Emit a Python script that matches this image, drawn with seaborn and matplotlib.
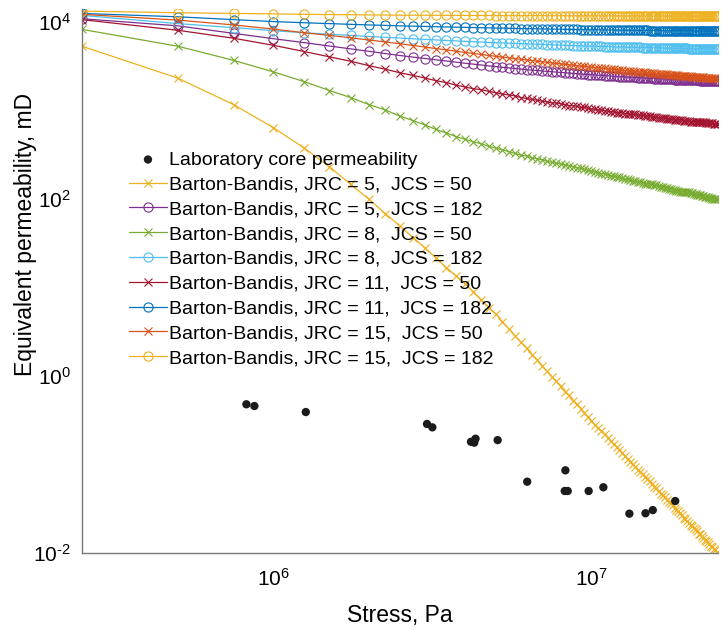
import numpy as np
import pandas as pd
import matplotlib
matplotlib.use("Agg")
import matplotlib.pyplot as plt
import seaborn as sns
from matplotlib.ticker import LogLocator, NullFormatter, FixedLocator, FuncFormatter

# ---------------- data ----------------
stress_mpa = [0.25, 0.5, 0.75, 1.0, 1.25, 1.5, 1.75, 2.0, 2.25, 2.5,
              2.75, 3.0, 3.25, 3.5, 3.75, 4.0, 4.25, 4.5, 4.75, 5.0,
              5.25, 5.5, 5.75, 6.0, 6.25, 6.5, 6.75, 7.0, 7.25, 7.5,
              7.75, 8.0, 8.25, 8.5, 8.75, 9.0, 9.25, 9.5, 9.75, 10.0,
              10.25, 10.5, 10.75, 11.0, 11.25, 11.5, 11.75, 12.0, 12.25, 12.5,
              12.75, 13.0, 13.25, 13.5, 13.75, 14.0, 14.25, 14.5, 14.75, 15.0,
              15.25, 15.5, 15.75, 16.0, 16.25, 16.5, 16.75, 17.0, 17.25, 17.5,
              17.75, 18.0, 18.25, 18.5, 18.75, 19.0, 19.25, 19.5, 19.75, 20.0,
              20.25, 20.5, 20.75, 21.0, 21.25, 21.5, 21.75, 22.0, 22.25, 22.5,
              22.75, 23.0, 23.25, 23.5, 23.75, 24.0, 24.25, 24.5, 24.75, 25.0]

# log10 of equivalent permeability (mD) for each Barton-Bandis case
log10_k_jrc5_jcs50 = [
    3.72, 3.36, 3.06, 2.80, 2.57, 2.36, 2.16, 1.99, 1.83, 1.69,
    1.56, 1.44, 1.33, 1.22, 1.13, 1.04, 0.95, 0.86, 0.77, 0.70,
    0.61, 0.53, 0.45, 0.38, 0.31, 0.24, 0.18, 0.11, 0.05, -0.01,
    -0.06, -0.12, -0.18, -0.22, -0.28, -0.32, -0.37, -0.42, -0.46, -0.51,
    -0.55, -0.59, -0.62, -0.66, -0.70, -0.74, -0.77, -0.80, -0.84, -0.87,
    -0.91, -0.94, -0.97, -1.00, -1.03, -1.06, -1.09, -1.11, -1.14, -1.17,
    -1.19, -1.22, -1.25, -1.27, -1.30, -1.33, -1.35, -1.37, -1.40, -1.42,
    -1.44, -1.46, -1.49, -1.51, -1.53, -1.55, -1.57, -1.60, -1.62, -1.64,
    -1.66, -1.68, -1.70, -1.72, -1.73, -1.75, -1.78, -1.79, -1.81, -1.83,
    -1.85, -1.87, -1.88, -1.90, -1.92, -1.93, -1.95, -1.97, -1.99, -2.00]

log10_k_jrc5_jcs182 = [
    4.03, 3.95, 3.865, 3.805, 3.76, 3.722, 3.69, 3.662, 3.637, 3.615,
    3.597, 3.581, 3.566, 3.553, 3.54, 3.528, 3.518, 3.508, 3.498, 3.49,
    3.482, 3.475, 3.468, 3.462, 3.455, 3.45, 3.446, 3.441, 3.436, 3.432,
    3.428, 3.424, 3.42, 3.417, 3.413, 3.41, 3.407, 3.403, 3.40, 3.398,
    3.395, 3.393, 3.39, 3.388, 3.386, 3.384, 3.381, 3.379, 3.377, 3.375,
    3.373, 3.372, 3.37, 3.369, 3.367, 3.365, 3.364, 3.362, 3.361, 3.359,
    3.358, 3.357, 3.355, 3.354, 3.353, 3.352, 3.351, 3.349, 3.348, 3.347,
    3.346, 3.345, 3.344, 3.343, 3.342, 3.341, 3.340, 3.339, 3.338, 3.338,
    3.337, 3.336, 3.336, 3.335, 3.334, 3.334, 3.333, 3.332, 3.332, 3.331,
    3.330, 3.330, 3.329, 3.329, 3.328, 3.327, 3.327, 3.326, 3.326, 3.325]

log10_k_jrc8_jcs50 = [
    3.91, 3.72, 3.56, 3.43, 3.32, 3.22, 3.14, 3.06, 3.00, 2.93,
    2.88, 2.83, 2.78, 2.74, 2.70, 2.67, 2.64, 2.62, 2.59, 2.57,
    2.55, 2.53, 2.51, 2.49, 2.48, 2.46, 2.45, 2.44, 2.42, 2.41,
    2.40, 2.39, 2.38, 2.37, 2.36, 2.35, 2.34, 2.33, 2.32, 2.31,
    2.30, 2.29, 2.28, 2.28, 2.27, 2.26, 2.25, 2.24, 2.24, 2.23,
    2.22, 2.22, 2.21, 2.20, 2.20, 2.19, 2.19, 2.18, 2.17, 2.17,
    2.16, 2.16, 2.15, 2.15, 2.14, 2.13, 2.13, 2.12, 2.12, 2.11,
    2.11, 2.10, 2.10, 2.09, 2.09, 2.08, 2.08, 2.08, 2.07, 2.07,
    2.07, 2.06, 2.06, 2.05, 2.05, 2.04, 2.04, 2.04, 2.03, 2.03,
    2.02, 2.02, 2.02, 2.01, 2.01, 2.00, 2.00, 2.00, 1.99, 1.99]

log10_k_jrc8_jcs182 = [
    4.068, 3.975, 3.93, 3.895, 3.872, 3.855, 3.842, 3.83, 3.82, 3.812,
    3.804, 3.797, 3.791, 3.785, 3.78, 3.775, 3.771, 3.767, 3.763, 3.76,
    3.757, 3.754, 3.751, 3.749, 3.746, 3.744, 3.742, 3.74, 3.738, 3.736,
    3.734, 3.732, 3.731, 3.729, 3.728, 3.726, 3.725, 3.723, 3.722, 3.721,
    3.72, 3.718, 3.717, 3.716, 3.715, 3.714, 3.713, 3.712, 3.711, 3.711,
    3.71, 3.709, 3.709, 3.708, 3.707, 3.707, 3.706, 3.705, 3.705, 3.704,
    3.703, 3.703, 3.702, 3.702, 3.701, 3.701, 3.70, 3.70, 3.699, 3.699,
    3.698, 3.698, 3.697, 3.697, 3.697, 3.696, 3.696, 3.695, 3.695, 3.695,
    3.694, 3.694, 3.694, 3.693, 3.693, 3.693, 3.692, 3.692, 3.692, 3.691,
    3.691, 3.691, 3.691, 3.69, 3.69, 3.69, 3.69, 3.689, 3.689, 3.689]

log10_k_jrc11_jcs50 = [
    4.02, 3.90, 3.81, 3.73, 3.66, 3.60, 3.55, 3.50, 3.46, 3.42,
    3.39, 3.36, 3.33, 3.31, 3.28, 3.26, 3.24, 3.23, 3.21, 3.195,
    3.18, 3.17, 3.16, 3.14, 3.13, 3.12, 3.11, 3.10, 3.09, 3.08,
    3.08, 3.07, 3.06, 3.05, 3.05, 3.04, 3.03, 3.03, 3.02, 3.01,
    3.01, 3.00, 3.00, 2.99, 2.99, 2.98, 2.98, 2.97, 2.97, 2.97,
    2.96, 2.96, 2.95, 2.95, 2.95, 2.94, 2.94, 2.94, 2.93, 2.93,
    2.93, 2.92, 2.92, 2.92, 2.91, 2.91, 2.91, 2.91, 2.90, 2.90,
    2.90, 2.90, 2.89, 2.89, 2.89, 2.89, 2.89, 2.88, 2.88, 2.88,
    2.88, 2.87, 2.87, 2.87, 2.87, 2.87, 2.86, 2.86, 2.86, 2.86,
    2.86, 2.85, 2.85, 2.85, 2.85, 2.85, 2.84, 2.84, 2.84, 2.84]

log10_k_jrc11_jcs182 = [
    4.09, 4.052, 4.02, 3.998, 3.985, 3.975, 3.967, 3.96, 3.955, 3.95,
    3.946, 3.943, 3.94, 3.937, 3.935, 3.933, 3.931, 3.929, 3.927, 3.925,
    3.924, 3.922, 3.921, 3.919, 3.918, 3.917, 3.916, 3.915, 3.914, 3.913,
    3.912, 3.912, 3.911, 3.91, 3.909, 3.909, 3.908, 3.907, 3.907, 3.906,
    3.905, 3.905, 3.904, 3.904, 3.903, 3.903, 3.902, 3.902, 3.901, 3.901,
    3.901, 3.90, 3.90, 3.90, 3.899, 3.899, 3.899, 3.898, 3.898, 3.898,
    3.897, 3.897, 3.897, 3.897, 3.896, 3.896, 3.896, 3.896, 3.895, 3.895,
    3.895, 3.894, 3.894, 3.894, 3.894, 3.893, 3.893, 3.893, 3.893, 3.893,
    3.892, 3.892, 3.892, 3.892, 3.891, 3.891, 3.891, 3.891, 3.891, 3.891,
    3.89, 3.89, 3.89, 3.89, 3.89, 3.89, 3.89, 3.89, 3.89, 3.89]

log10_k_jrc15_jcs50 = [
    4.08, 4.015, 3.96, 3.913, 3.872, 3.842, 3.815, 3.79, 3.768, 3.748,
    3.728, 3.71, 3.693, 3.678, 3.664, 3.65, 3.638, 3.627, 3.616, 3.606,
    3.597, 3.588, 3.579, 3.572, 3.564, 3.557, 3.55, 3.544, 3.538, 3.531,
    3.526, 3.52, 3.515, 3.51, 3.505, 3.501, 3.496, 3.492, 3.487, 3.483,
    3.479, 3.476, 3.472, 3.469, 3.465, 3.461, 3.458, 3.455, 3.452, 3.448,
    3.445, 3.443, 3.44, 3.437, 3.434, 3.432, 3.429, 3.427, 3.424, 3.421,
    3.419, 3.417, 3.414, 3.412, 3.41, 3.408, 3.406, 3.404, 3.402, 3.40,
    3.398, 3.396, 3.394, 3.393, 3.391, 3.389, 3.387, 3.386, 3.384, 3.382,
    3.381, 3.379, 3.377, 3.376, 3.374, 3.373, 3.371, 3.37, 3.368, 3.367,
    3.365, 3.364, 3.363, 3.361, 3.36, 3.358, 3.357, 3.356, 3.354, 3.353]

log10_k_jrc15_jcs182 = [
    4.116, 4.098, 4.09, 4.085, 4.08, 4.077, 4.075, 4.073, 4.072, 4.07,
    4.07, 4.069, 4.069, 4.068, 4.068, 4.068, 4.067, 4.067, 4.067, 4.066,
    4.066, 4.066, 4.066, 4.065, 4.065, 4.065, 4.065, 4.065, 4.064, 4.064,
    4.064, 4.064, 4.064, 4.064, 4.063, 4.063, 4.063, 4.063, 4.063, 4.063,
    4.063, 4.062, 4.062, 4.062, 4.062, 4.062, 4.062, 4.062, 4.062, 4.062,
    4.061, 4.061, 4.061, 4.061, 4.061, 4.061, 4.061, 4.061, 4.061, 4.061,
    4.061, 4.061, 4.06, 4.06, 4.06, 4.06, 4.06, 4.06, 4.06, 4.06,
    4.06, 4.06, 4.06, 4.06, 4.06, 4.06, 4.06, 4.06, 4.06, 4.06,
    4.06, 4.06, 4.06, 4.06, 4.06, 4.06, 4.06, 4.06, 4.06, 4.06,
    4.06, 4.06, 4.06, 4.06, 4.06, 4.06, 4.06, 4.06, 4.06, 4.06]

# laboratory core measurements
lab_stress_pa = [8.22e5, 8.71e5, 1.264e6, 3.04e6, 3.16e6, 4.18e6, 4.32e6, 4.28e6,
                 5.07e6, 6.28e6, 8.28e6, 8.24e6, 8.42e6, 9.80e6, 1.09e7, 1.316e7,
                 1.479e7, 1.559e7, 1.834e7]
lab_perm_md = [0.477, 0.456, 0.390, 0.286, 0.262, 0.180, 0.195, 0.176,
               0.188, 0.0638, 0.0857, 0.0501, 0.0501, 0.0501, 0.0552, 0.0278,
               0.0281, 0.0305, 0.0386]

series_labels = [
    "Barton-Bandis, JRC = 5,  JCS = 50",
    "Barton-Bandis, JRC = 5,  JCS = 182",
    "Barton-Bandis, JRC = 8,  JCS = 50",
    "Barton-Bandis, JRC = 8,  JCS = 182",
    "Barton-Bandis, JRC = 11,  JCS = 50",
    "Barton-Bandis, JRC = 11,  JCS = 182",
    "Barton-Bandis, JRC = 15,  JCS = 50",
    "Barton-Bandis, JRC = 15,  JCS = 182",
]
series_values = [log10_k_jrc5_jcs50, log10_k_jrc5_jcs182, log10_k_jrc8_jcs50,
                 log10_k_jrc8_jcs182, log10_k_jrc11_jcs50, log10_k_jrc11_jcs182,
                 log10_k_jrc15_jcs50, log10_k_jrc15_jcs182]

# ---------------- styling ----------------
series_colors = ["#EDB120", "#7E2F8E", "#77AC30", "#4DBEEE",
                 "#A2142F", "#0072BD", "#D95319", "#EDB120"]
series_markers = ["x", "o", "x", "o", "x", "o", "x", "o"]

sns.set_style("white")
plt.rcParams["font.family"] = ["Liberation Sans", "DejaVu Sans"]
plt.rcParams["mathtext.default"] = "regular"
plt.rcParams["axes.unicode_minus"] = False
plt.rcParams["text.color"] = "black"
plt.rcParams["axes.labelcolor"] = "black"

W, H = 722, 630
fig = plt.figure(figsize=(W / 100, H / 100), dpi=100)
ax_left, ax_right, ax_top, ax_bottom = 82, 718, 9, 553
ax = fig.add_axes([ax_left / W, 1 - ax_bottom / H,
                   (ax_right - ax_left) / W, (ax_bottom - ax_top) / H])

stress_pa = np.array(stress_mpa) * 1e6
for lab, vals, col, mk in zip(series_labels, series_values, series_colors, series_markers):
    df = pd.DataFrame({"stress": stress_pa, "perm": 10 ** np.array(vals)})
    ms = 6.6 if mk == "o" else 5.8
    sns.lineplot(data=df, x="stress", y="perm", ax=ax, color=col, marker=mk,
                 markersize=ms, markeredgecolor=col, markerfacecolor="none",
                 markeredgewidth=0.8, linewidth=0.9, label=lab,
                 estimator=None, sort=False)

sns.scatterplot(x=lab_stress_pa, y=lab_perm_md, ax=ax, color="#1c1c1c", s=36,
                edgecolor="none", label="Laboratory core permeability", zorder=10)

ax.set_xscale("log")
ax.set_yscale("log")
ax.set_xlim(2.5e5, 2.5e7)
ax.set_ylim(1e-2, 10 ** 4.14)


def pow10_label(v, pos):
    e = int(round(np.log10(v)))
    es = str(e).replace("-", "\u2010")
    return "$\\mathdefault{10^{" + es + "}}$"


ax.xaxis.set_major_locator(FixedLocator([1e6, 1e7]))
ax.xaxis.set_minor_locator(LogLocator(base=10, subs=np.arange(1, 10), numticks=100))
ax.yaxis.set_major_locator(FixedLocator([1e-2, 1e0, 1e2, 1e4]))
ax.yaxis.set_minor_locator(LogLocator(base=10, subs=np.arange(1, 10), numticks=100))
ax.xaxis.set_major_formatter(FuncFormatter(pow10_label))
ax.yaxis.set_major_formatter(FuncFormatter(pow10_label))
ax.xaxis.set_minor_formatter(NullFormatter())
ax.yaxis.set_minor_formatter(NullFormatter())

spine_col = "#777777"
for s in ["top", "right"]:
    ax.spines[s].set_visible(False)
for s in ["left", "bottom"]:
    ax.spines[s].set_color(spine_col)
    ax.spines[s].set_linewidth(1.0)
ax.tick_params(which="both", direction="in", color=spine_col, labelcolor="black")
ax.tick_params(which="major", length=4, width=0.9, labelsize=15)
ax.tick_params(axis="x", which="major", pad=11)
ax.tick_params(axis="y", which="major", pad=8)
ax.tick_params(which="minor", length=3, width=0.8)

ax.set_xlabel("Stress, Pa", fontsize=16.5)
ax.set_ylabel("Equivalent permeability, mD", fontsize=16.5)
ax.xaxis.set_label_coords(0.5, -0.093)
ax.yaxis.set_label_coords(-0.07, 0.585)

handles, labels = ax.get_legend_handles_labels()
order = [labels.index("Laboratory core permeability")] + \
        [labels.index(l) for l in series_labels]
ax.legend([handles[i] for i in order], [labels[i] for i in order],
          loc="upper left", bbox_to_anchor=(129 / W, 1 - 151 / H),
          bbox_transform=fig.transFigure, frameon=False, fontsize=14,
          handlelength=1.95, handletextpad=0.12, labelspacing=0.37,
          borderpad=0, borderaxespad=0, scatterpoints=1)

fig.savefig("out.png", dpi=100, facecolor="white")
